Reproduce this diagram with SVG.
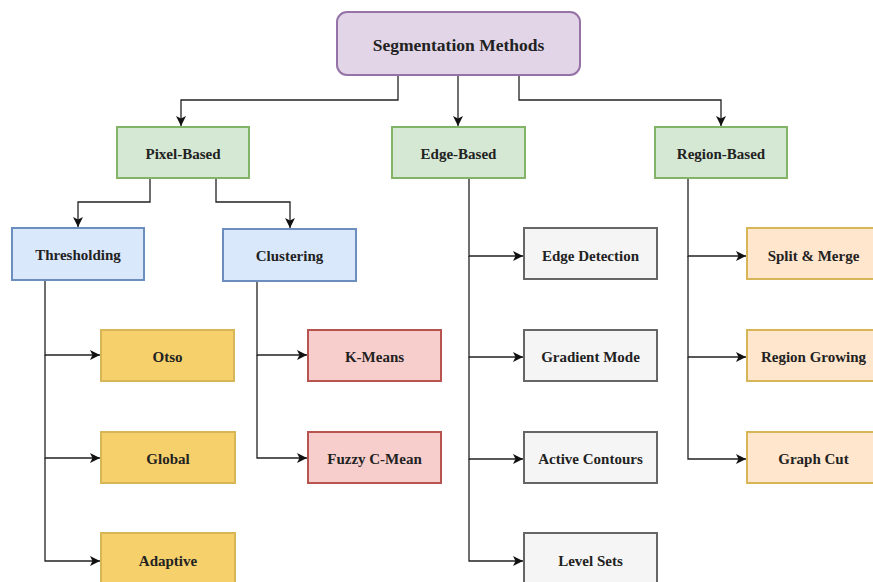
<svg xmlns="http://www.w3.org/2000/svg" width="873" height="582" viewBox="0 0 873 582">
<style>
text{font-weight:bold;font-size:15px;fill:#222;text-anchor:middle;dominant-baseline:central}
.purple{fill:#e1d5e7;stroke:#9673a6;stroke-width:2}
.green{fill:#d5e8d4;stroke:#82b366;stroke-width:2}
.blue{fill:#dae8fc;stroke:#6c8ebf;stroke-width:2}
.gold{fill:#f5d06b;stroke:#d6b656;stroke-width:2}
.red{fill:#f8cecc;stroke:#b85450;stroke-width:2}
.grey{fill:#f5f5f5;stroke:#666666;stroke-width:2}
.peach{fill:#ffe6cc;stroke:#d6b656;stroke-width:2}
.c{fill:none;stroke:#222;stroke-width:1.3;marker-end:url(#ah)}
</style>
<defs>
<marker id="ah" viewBox="0 0 10 10" refX="10" refY="5" markerWidth="10" markerHeight="10" markerUnits="userSpaceOnUse" orient="auto">
<path d="M0,0 L10,5 L0,10 L2.5,5 Z" fill="#111"/>
</marker>
</defs>
<rect width="873" height="582" fill="#fff"/>
<g id="connectors">
<path class="c" d="M398,75 V100 H181 V126"/>
<path class="c" d="M458,75 V126"/>
<path class="c" d="M519,75 V100 H721 V126"/>
<path class="c" d="M150,178 V202 H78 V227"/>
<path class="c" d="M216,178 V202 H290 V228"/>
<path class="c" d="M45,280 V355 H100"/>
<path class="c" d="M45,355 V458 H100"/>
<path class="c" d="M45,458 V561 H100"/>
<path class="c" d="M257,281 V355 H307"/>
<path class="c" d="M257,355 V458 H307"/>
<path class="c" d="M469,178 V256 H523"/>
<path class="c" d="M469,256 V357 H523"/>
<path class="c" d="M469,357 V459 H523"/>
<path class="c" d="M469,459 V561 H523"/>
<path class="c" d="M688,178 V256 H746"/>
<path class="c" d="M688,256 V357 H746"/>
<path class="c" d="M688,357 V459 H746"/>
</g>
<g font-family="Liberation Serif, serif">
<g id="segmentation-methods"><rect class="purple" x="337" y="12" width="243" height="63" rx="10"/><text x="458.5" y="45" style="font-size:17.5px">Segmentation Methods</text></g>
<g id="pixel-based"><rect class="green" x="117" y="127" width="132" height="51"/><text x="183" y="154">Pixel-Based</text></g>
<g id="edge-based"><rect class="green" x="392" y="127" width="133" height="51"/><text x="458.5" y="154">Edge-Based</text></g>
<g id="region-based"><rect class="green" x="655" y="127" width="132" height="51"/><text x="721" y="154">Region-Based</text></g>
<g id="thresholding"><rect class="blue" x="12" y="228" width="132" height="52"/><text x="78" y="255">Thresholding</text></g>
<g id="clustering"><rect class="blue" x="223" y="229" width="133" height="52"/><text x="289.5" y="256">Clustering</text></g>
<g id="otso"><rect class="gold" x="101" y="330" width="133" height="51"/><text x="167.5" y="357">Otso</text></g>
<g id="global"><rect class="gold" x="101" y="432" width="134" height="51"/><text x="168" y="459">Global</text></g>
<g id="adaptive"><rect class="gold" x="101" y="533" width="134" height="51"/><text x="168" y="561">Adaptive</text></g>
<g id="k-means"><rect class="red" x="308" y="330" width="133" height="51"/><text x="374.5" y="357">K-Means</text></g>
<g id="fuzzy-c-mean"><rect class="red" x="308" y="432" width="133" height="51"/><text x="374.5" y="459">Fuzzy C-Mean</text></g>
<g id="edge-detection"><rect class="grey" x="524" y="228" width="133" height="51"/><text x="590.5" y="256">Edge Detection</text></g>
<g id="gradient-mode"><rect class="grey" x="524" y="330" width="133" height="51"/><text x="590.5" y="357">Gradient Mode</text></g>
<g id="active-contours"><rect class="grey" x="524" y="432" width="133" height="51"/><text x="590.5" y="459">Active Contours</text></g>
<g id="level-sets"><rect class="grey" x="524" y="533" width="133" height="51"/><text x="590.5" y="561">Level Sets</text></g>
<g id="split-merge"><rect class="peach" x="747" y="228" width="133" height="51"/><text x="813.5" y="256">Split &amp; Merge</text></g>
<g id="region-growing"><rect class="peach" x="747" y="330" width="133" height="51"/><text x="813.5" y="357">Region Growing</text></g>
<g id="graph-cut"><rect class="peach" x="747" y="432" width="133" height="51"/><text x="813.5" y="459">Graph Cut</text></g>
</g>
</svg>
